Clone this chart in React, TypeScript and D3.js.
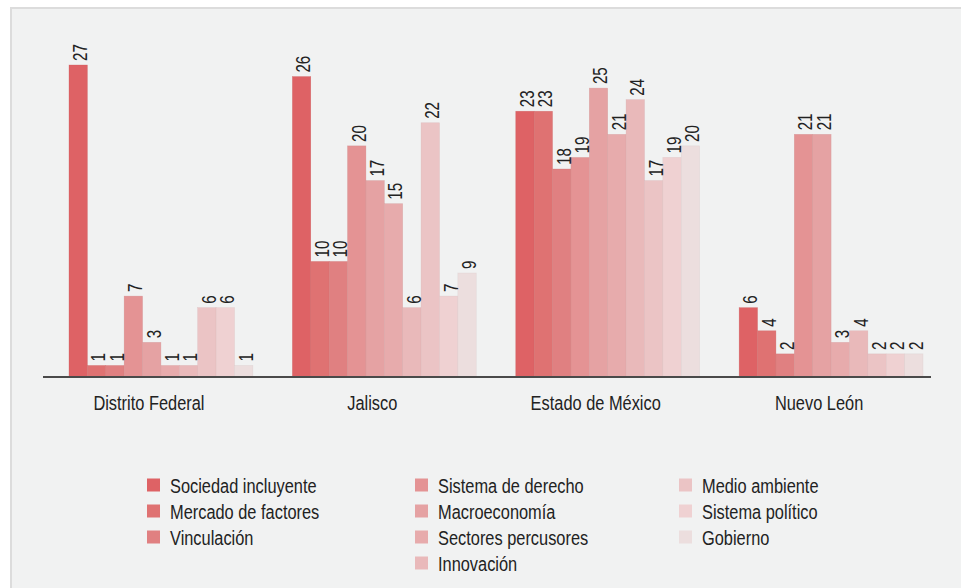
import React, { useEffect, useRef } from 'react';
import * as d3 from 'd3';

// Entidades (grupos del eje x)
const states = ['Distrito Federal', 'Jalisco', 'Estado de México', 'Nuevo León'];

// Series (subíndices), en el orden de las barras
const series = [
  'Sociedad incluyente',
  'Mercado de factores',
  'Vinculación',
  'Sistema de derecho',
  'Macroeconomía',
  'Sectores percusores',
  'Innovación',
  'Medio ambiente',
  'Sistema político',
  'Gobierno',
];

const seriesColors = [
  '#de6265', '#df7272', '#e08081', '#e49394', '#e5a2a3',
  '#e7abac', '#e9b9ba', '#ebc4c5', '#efd1d2', '#ecdede',
];

// valores por entidad, un valor por serie
const valuesDF = [27, 1, 1, 7, 3, 1, 1, 6, 6, 1];
const valuesJalisco = [26, 10, 10, 20, 17, 15, 6, 22, 7, 9];
const valuesEdoMex = [23, 23, 18, 19, 25, 21, 24, 17, 19, 20];
const valuesNL = [6, 4, 2, 21, 21, 3, 4, 2, 2, 2];
const values = [valuesDF, valuesJalisco, valuesEdoMex, valuesNL];

// columnas de la leyenda (índices de serie)
const legendColumns = [[0, 1, 2], [3, 4, 5, 6], [7, 8, 9]];

// no hay fuente condensada instalada: se estrecha Liberation Sans en horizontal
const FONT = '"Liberation Sans", Arial, sans-serif';
const NARROW = 0.78;

const App: React.FC = () => {
  const ref = useRef<SVGSVGElement>(null);

  useEffect(() => {
    const svg = d3.select(ref.current);
    svg.selectAll('*').remove();

    const W = 961;
    const H = 588;

    // fondo blanco y panel gris
    svg.append('rect').attr('width', W).attr('height', H).attr('fill', '#ffffff');
    svg.append('rect')
      .attr('x', 11).attr('y', 8)
      .attr('width', W + 20).attr('height', H + 20)
      .attr('fill', '#f1f2f2')
      .attr('stroke', '#dcdcdc')
      .attr('stroke-width', 2);

    // área de barras
    const left = 69, right = 923, baseline = 377;
    const x0 = d3.scaleBand<string>().domain(states).range([left, right]).paddingInner(0.177).paddingOuter(0);
    const x1 = d3.scaleBand<number>().domain(d3.range(series.length)).range([0, x0.bandwidth()]).padding(0);
    const y = d3.scaleLinear().domain([0, 27]).range([baseline, baseline - 312]);

    const groups = svg.selectAll('g.state')
      .data(states)
      .enter()
      .append('g')
      .attr('class', 'state')
      .attr('transform', d => `translate(${x0(d)},0)`);

    groups.each(function (state, gi) {
      const g = d3.select(this);
      const vals = values[gi];

      g.selectAll('rect')
        .data(vals)
        .enter()
        .append('rect')
        .attr('x', (_, i) => x1(i)!)
        .attr('y', d => y(d))
        .attr('width', x1.bandwidth())
        .attr('height', d => baseline - y(d))
        .attr('fill', (_, i) => seriesColors[i])
        .attr('stroke', (_, i) => d3.rgb(seriesColors[i]).darker(0.25).toString())
        .attr('stroke-width', 0.5)
        .attr('stroke-opacity', 0.6);

      // etiquetas de valor, verticales
      g.selectAll('text.val')
        .data(vals)
        .enter()
        .append('text')
        .attr('class', 'val')
        .attr('transform', (d, i) => `translate(${x1(i)! + x1.bandwidth() / 2 + 1.5},${y(d) - 4}) rotate(-90) scale(0.72,1)`)
        .attr('dy', '0.35em')
        .attr('font-family', FONT)
        .attr('font-size', 21)
        .attr('fill', '#222')
        .text(d => d);
    });

    // eje x
    svg.append('line')
      .attr('x1', 43).attr('x2', 931)
      .attr('y1', baseline).attr('y2', baseline)
      .attr('stroke', '#4a4a4a')
      .attr('stroke-width', 2);

    svg.selectAll('text.cat')
      .data(states)
      .enter()
      .append('text')
      .attr('class', 'cat')
      .attr('transform', d => `translate(${x0(d)! + x0.bandwidth() / 2 - 12},410) scale(${NARROW},1)`)
      .attr('text-anchor', 'middle')
      .attr('font-family', FONT)
      .attr('font-size', 21)
      .attr('fill', '#222')
      .text(d => d);

    // leyenda
    const colX = [147, 415, 679];
    const rowY = d3.scaleLinear().domain([0, 1]).range([485, 511]);
    legendColumns.forEach((col, ci) => {
      col.forEach((si, ri) => {
        const cy = rowY(ri);
        svg.append('rect')
          .attr('x', colX[ci]).attr('y', cy - 6.5)
          .attr('width', 13).attr('height', 13)
          .attr('fill', seriesColors[si]);
        svg.append('text')
          .attr('transform', `translate(${colX[ci] + 23},${cy + 7.5}) scale(${NARROW},1)`)
          .attr('font-family', FONT)
          .attr('font-size', 21)
          .attr('fill', '#222')
          .text(series[si]);
      });
    });
  }, []);

  return (
    <svg
      ref={ref}
      width={961}
      height={588}
      style={{ position: 'absolute', left: 0, top: 0, display: 'block' }}
    />
  );
};

export default App;
